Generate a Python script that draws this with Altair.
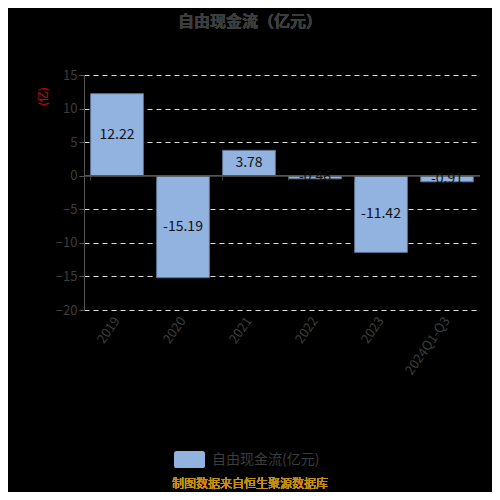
import altair as alt
import pandas as pd

# 自由现金流（亿元）
years = ["2019", "2020", "2021", "2022", "2023", "2024Q1-Q3"]
values = [12.22, -15.19, 3.78, -0.46, -11.42, -0.91]
series_name = "自由现金流(亿元)"
tick_values = [15, 10, 5, 0, -5, -10, -15, -20]

df = pd.DataFrame({"year": years, "value": values, "series": series_name})

font = "Noto Sans CJK SC"
grey = "#3d3d3d"
axis_grey = "#555555"
bar_blue = "#92b3e0"

W, H = 396, 235

band = alt.Scale(type="band", paddingInner=0.2, paddingOuter=0.1, domain=years)
yscale = alt.Scale(domain=[-20, 15], nice=False)

x_axis = alt.Axis(labelAngle=-55, labelColor=grey, labelFontSize=13, labelFont=font,
                  domain=False, ticks=False, labelPadding=8, grid=False, title=None)
y_axis = alt.Axis(values=tick_values, labelOverlap=False,
                  labelColor=grey, labelFontSize=13, labelFont=font,
                  domainColor=axis_grey, tickColor=axis_grey, tickSize=5,
                  grid=True, gridColor="#dddddd", gridDash=[5, 4],
                  gridOpacity=alt.condition("datum.value === 0", alt.value(0), alt.value(1)),
                  title="(亿)", titleColor="#e00000", titleFontSize=11,
                  titleFont=font, titleFontWeight="normal", titleAngle=-90,
                  titleX=-36, titleY=21, titleAlign="center")

bars = alt.Chart(df).mark_bar(stroke="#5d7392", strokeWidth=1).encode(
    x=alt.X("year:N", scale=band, sort=years, axis=x_axis),
    y=alt.Y("value:Q", scale=yscale, axis=y_axis),
    color=alt.Color("series:N", scale=alt.Scale(range=[bar_blue]),
                    legend=alt.Legend(orient="none", legendX=90, legendY=369, title=None,
                                      symbolType="M-0.85,-0.55H0.85A0.15,0.15 0 0 1 1,-0.4V0.4A0.15,0.15 0 0 1 0.85,0.55H-0.85A0.15,0.15 0 0 1 -1,0.4V-0.4A0.15,0.15 0 0 1 -0.85,-0.55Z",
                                      symbolSize=961, symbolStrokeWidth=0, symbolOpacity=1,
                                      labelColor=grey, labelFontSize=14, labelFont=font,
                                      labelOffset=7)),
)

# category axis line drawn at zero, with ticks on the band boundaries
zero_line = alt.Chart(df).mark_rule(color=axis_grey, strokeWidth=1).encode(
    y=alt.YDatum(0, scale=yscale, axis=y_axis)
)
zero_ticks = alt.Chart(df).mark_tick(
    orient="vertical", size=5, thickness=1, yOffset=2.5, color=axis_grey
).encode(
    x=alt.X("year:N", scale=band, sort=years, bandPosition=0, axis=x_axis),
    y=alt.YDatum(0, scale=yscale, axis=y_axis),
)
end_tick = alt.Chart(df).transform_filter(
    alt.datum.year == years[-1]
).mark_tick(
    orient="vertical", size=5, thickness=1, yOffset=2.5, color=axis_grey
).encode(
    x=alt.X("year:N", scale=band, sort=years, bandPosition=1, axis=x_axis),
    y=alt.YDatum(0, scale=yscale, axis=y_axis),
)

labels = alt.Chart(df).transform_calculate(
    mid="datum.value / 2", lbl="toString(datum.value)"
).mark_text(color="#111111", fontSize=14, font=font).encode(
    x=alt.X("year:N", scale=band, sort=years, axis=x_axis),
    y=alt.Y("mid:Q", scale=yscale, axis=y_axis),
    text="lbl:N",
)

title = alt.Chart(df).mark_text(
    text="自由现金流（亿元）", fontSize=16, fontWeight="bold", color=grey, font=font,
    baseline="middle"
).encode(x=alt.value(166), y=alt.value(-53))

footer = alt.Chart(df).mark_text(
    text="制图数据来自恒生聚源数据库", fontSize=12, color="#c8900f", font=font,
    baseline="middle"
).encode(x=alt.value(166), y=alt.value(409))

chart = alt.layer(bars, zero_line, zero_ticks, end_tick, labels, title, footer).properties(
    width=W, height=H, background="#000000",
    autosize=alt.AutoSizeParams(type="none"),
    padding={"left": 76, "top": 67, "right": 12, "bottom": 182},
).configure_view(stroke=None)

chart.save("out.html", embed_options={"renderer": "svg", "actions": False})
